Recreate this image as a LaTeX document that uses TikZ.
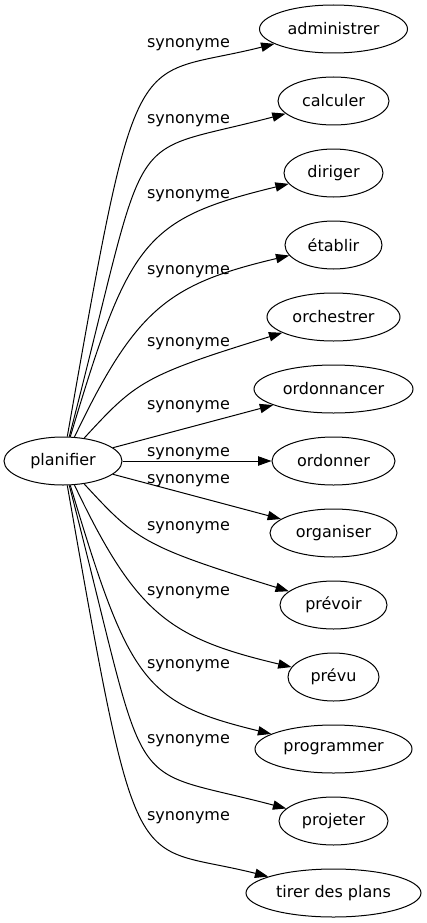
\documentclass[tikz,border=0pt]{standalone}
\usepackage{fontspec}
\setmainfont{DejaVu Sans}
\usetikzlibrary{shapes.geometric,arrows.meta}
\begin{document}
\begin{tikzpicture}[x=1pt,y=-1pt,line width=1pt,>={Triangle[length=13.3pt,width=9.3pt]},
    word/.style={ellipse, draw, inner sep=0pt, minimum height=48pt, font=\fontsize{16}{19}\selectfont},
    rel/.style={anchor=base, inner sep=0pt, font=\fontsize{16}{19}\selectfont}]
  \useasboundingbox (0,0) rectangle (426,923);
  % words
  \node[word, minimum width=118pt] (plan) at (63,461) {planifier};
  \node[word, minimum width=148pt] (admin) at (333.5,29) {administrer};
  \node[word, minimum width=111pt] (calc) at (333.5,101) {calculer};
  \node[word, minimum width=99pt] (dir) at (333.5,173) {diriger};
  \node[word, minimum width=97pt] (etab) at (333.5,245) {établir};
  \node[word, minimum width=133pt] (orch) at (333.5,317) {orchestrer};
  \node[word, minimum width=159pt] (ordc) at (333.5,389) {ordonnancer};
  \node[word, minimum width=123pt] (ordn) at (333.5,461) {ordonner};
  \node[word, minimum width=127pt] (orga) at (333.5,533) {organiser};
  \node[word, minimum width=107pt] (prevoir) at (333.5,605) {prévoir};
  \node[word, minimum width=91pt] (prevu) at (333.5,677) {prévu};
  \node[word, minimum width=157pt] (prog) at (333.5,749) {programmer};
  \node[word, minimum width=109pt] (proj) at (333.5,821) {projeter};
  \node[word, minimum width=175pt] (tirer) at (333.5,893) {tirer des plans};
  % labels
  \foreach \y [count=\i] in {48,124,198,274,346,409,456,483,530,595,668,743,820}
    \node[rel] (s\i) at (188.5,\y) {synonyme};
  % edges
  \draw[->] (plan) .. controls (139,28) and (131,80) .. (admin);
  \draw[->] (plan) .. controls (153,113) and (118,158) .. (calc);
  \draw[->] (plan) .. controls (129,241) and (143.5,219) .. (dir);
  \draw[->] (plan) .. controls (136,308) and (169,284) .. (etab);
  \draw[->] (plan) .. controls (136,382) and (142,376) .. (orch);
  \draw[->] (plan) -- (ordc);
  \draw[->] (plan) -- (ordn);
  \draw[->] (plan) -- (orga);
  \draw[->] (plan) .. controls (136,540) and (142,546) .. (prevoir);
  \draw[->] (plan) .. controls (136,614) and (169,638) .. (prevu);
  \draw[->] (plan) .. controls (129,681) and (143.5,703) .. (prog);
  \draw[->] (plan) .. controls (153,809) and (118,764) .. (proj);
  \draw[->] (plan) .. controls (139,894) and (131,842) .. (tirer);
\end{tikzpicture}
\end{document}
